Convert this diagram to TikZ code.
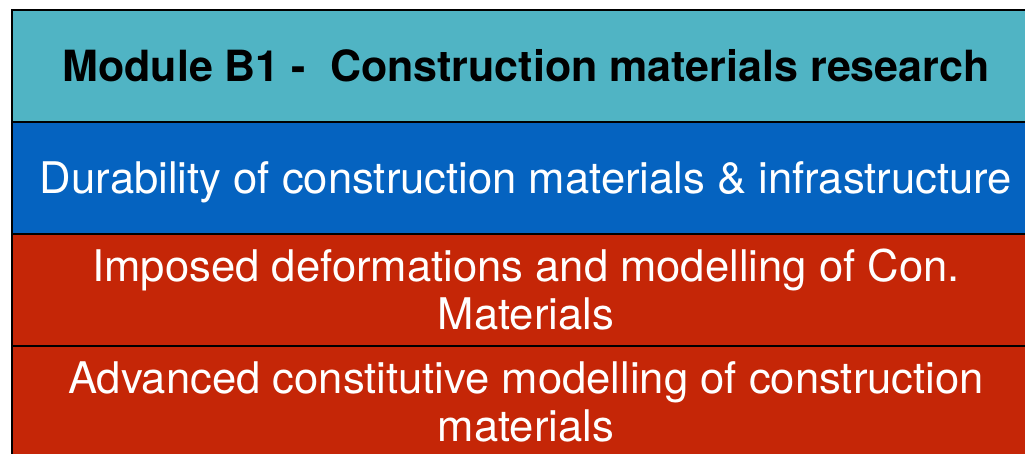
\documentclass[tikz,border=0pt]{standalone}
\usepackage{fontspec}
\setmainfont{TeX Gyre Heros}
\usetikzlibrary{positioning}

\definecolor{moduleteal}{RGB}{80,180,196}
\definecolor{duraplue}{RGB}{5,99,192}
\definecolor{topicred}{RGB}{197,38,7}

\begin{document}
\begin{tikzpicture}[
	row/.style={draw=black,line width=2pt,outer sep=0pt,minimum width=1028pt,minimum height=112pt,
		align=center,font=\fontsize{43.6}{48}\selectfont},
	whiterow/.style={row,text=white}
	]
	\useasboundingbox (0,0) rectangle (1025pt,-454pt);
	\node[row,fill=moduleteal,font=\fontsize{43}{48}\selectfont\bfseries] (hdr) at (526pt,-66pt) {Module B1 -\ \ Construction materials research};
	\node[whiterow,fill=duraplue,text depth=0pt,below=0pt of hdr] (dur) {Durability of construction materials \& infrastructure};
	\node[whiterow,fill=topicred,below=0pt of dur] (imp) {Imposed deformations and modelling of Con.\\ Materials};
	\node[whiterow,fill=topicred,below=0pt of imp] (adv) {Advanced constitutive modelling of construction\\ materials};
\end{tikzpicture}
\end{document}
